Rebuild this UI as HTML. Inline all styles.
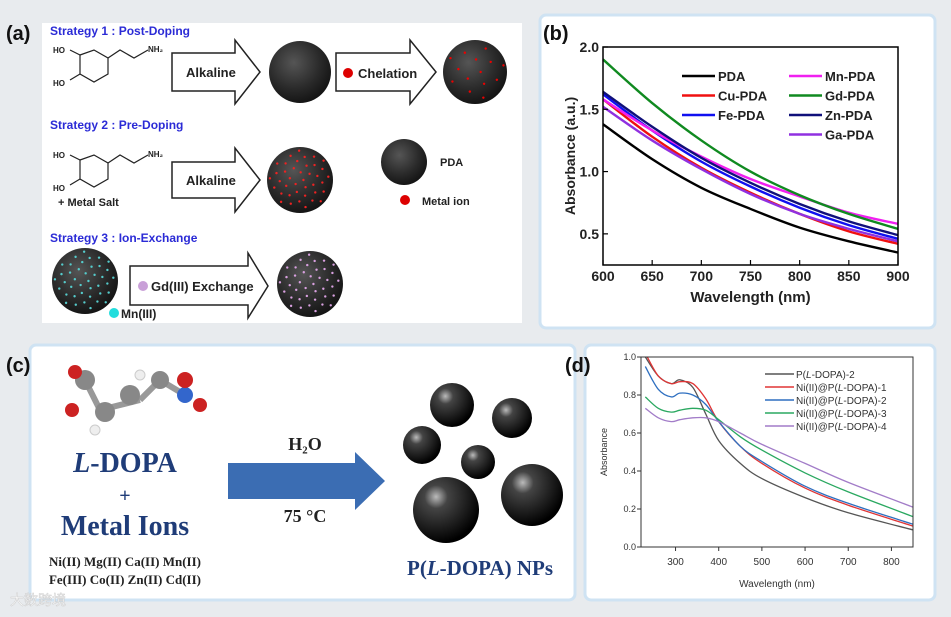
<!DOCTYPE html>
<html><head><meta charset="utf-8"><style>
html,body{margin:0;padding:0;width:951px;height:617px;overflow:hidden;background:#e9ecef;font-family:"Liberation Sans",sans-serif}
svg{display:block}
</style></head><body>
<svg id="fig" width="951" height="617" viewBox="0 0 951 617" xmlns="http://www.w3.org/2000/svg">
<defs>
<radialGradient id="sph" cx="0.4" cy="0.35" r="0.7"><stop offset="0" stop-color="#555"/><stop offset="0.6" stop-color="#2a2a2a"/><stop offset="1" stop-color="#111"/></radialGradient>
<radialGradient id="ball" cx="0.35" cy="0.3" r="0.7"><stop offset="0" stop-color="#bbb"/><stop offset="0.25" stop-color="#444"/><stop offset="1" stop-color="#000"/></radialGradient>
<clipPath id="cpd"><rect x="641" y="357" width="272" height="190"/></clipPath>
</defs>
<rect width="951" height="617" fill="#e8ebee"/>
<rect x="42" y="23" width="480" height="300" fill="#fff"/>
<rect x="540" y="15" width="395" height="313" rx="6" fill="#fff" stroke="#cfe3f3" stroke-width="3"/>
<rect x="30" y="345" width="545" height="255" rx="6" fill="#fff" stroke="#cfe3f3" stroke-width="3"/>
<rect x="585" y="345" width="350" height="255" rx="6" fill="#fff" stroke="#cfe3f3" stroke-width="3"/>

<g font-weight="bold">
<text x="6" y="40" font-size="20" fill="#111">(a)</text>
<text x="50" y="35" font-size="12" fill="#2b2bd6">Strategy 1 : Post-Doping</text>
<text x="50" y="129" font-size="12" fill="#2b2bd6">Strategy 2 : Pre-Doping</text>
<text x="50" y="242" font-size="12" fill="#2b2bd6">Strategy 3 : Ion-Exchange</text>
<g fill="none" stroke="#222" stroke-width="1.2">
<polygon points="80,55 94,50 108,58 108,74 94,82 80,74"/><polyline points="108,58 120,50 134,58 148,50"/><line x1="80" y1="55" x2="70" y2="50"/><line x1="80" y1="74" x2="70" y2="80"/>
</g>
<text x="53" y="53" font-size="8" fill="#222">HO</text><text x="53" y="86" font-size="8" fill="#222">HO</text><text x="148" y="52" font-size="8" fill="#222">NH₂</text>
<g fill="none" stroke="#222" stroke-width="1.2">
<polygon points="80,160 94,155 108,163 108,179 94,187 80,179"/><polyline points="108,163 120,155 134,163 148,155"/><line x1="80" y1="160" x2="70" y2="155"/><line x1="80" y1="179" x2="70" y2="185"/>
</g>
<text x="53" y="158" font-size="8" fill="#222">HO</text><text x="53" y="191" font-size="8" fill="#222">HO</text><text x="148" y="157" font-size="8" fill="#222">NH₂</text>
<text x="58" y="206" font-size="11" fill="#222">+ Metal Salt</text>
<path d="M172,53 H235 V40 L260,72 L235,104 V91 H172 Z" fill="#fff" stroke="#222" stroke-width="1.5"/>
<text x="186" y="77" font-size="13" fill="#222">Alkaline</text>
<path d="M336,53 H410 V40 L436,72 L410,104 V91 H336 Z" fill="#fff" stroke="#222" stroke-width="1.5"/>
<circle cx="348" cy="73" r="5" fill="#d00"/><text x="358" y="78" font-size="13" fill="#222">Chelation</text>
<path d="M172,162 H235 V148 L260,180 L235,212 V198 H172 Z" fill="#fff" stroke="#222" stroke-width="1.5"/>
<text x="186" y="185" font-size="13" fill="#222">Alkaline</text>
<path d="M130,266 H248 V253 L268,286 L248,318 V305 H130 Z" fill="#fff" stroke="#222" stroke-width="1.5"/>
<circle cx="143" cy="286" r="5" fill="#c9a0d8"/><text x="151" y="291" font-size="13" fill="#222">Gd(III) Exchange</text>
<circle cx="300" cy="72" r="31" fill="url(#sph)"/>
<circle cx="475" cy="72" r="32" fill="url(#sph)"/>
<circle cx="300" cy="180" r="33" fill="url(#sph)"/>
<circle cx="404" cy="162" r="23" fill="url(#sph)"/>
<text x="440" y="166" font-size="11" fill="#222">PDA</text>
<circle cx="405" cy="200" r="5" fill="#d00"/><text x="422" y="205" font-size="11" fill="#222">Metal ion</text>
<circle cx="85" cy="281" r="33" fill="url(#sph)"/>
<circle cx="310" cy="284" r="33" fill="url(#sph)"/>
<circle cx="114" cy="313" r="5" fill="#2dd"/><text x="121" y="318" font-size="12" fill="#222">Mn(III)</text>
<g id="dots"></g>
</g>

<g id="chartB"></g>
<g id="chartD"></g>

<g>
<text x="6" y="372" font-size="20" font-weight="bold" fill="#111">(c)</text>
<g>
<line x1="85" y1="380" x2="100" y2="410" stroke="#999" stroke-width="6"/><line x1="100" y1="410" x2="140" y2="400" stroke="#999" stroke-width="6"/>
<line x1="140" y1="400" x2="160" y2="380" stroke="#999" stroke-width="6"/><line x1="160" y1="380" x2="185" y2="395" stroke="#999" stroke-width="6"/>
<circle cx="85" cy="380" r="10" fill="#888"/><circle cx="105" cy="412" r="10" fill="#888"/><circle cx="130" cy="395" r="10" fill="#888"/>
<circle cx="75" cy="372" r="7" fill="#c22"/><circle cx="72" cy="410" r="7" fill="#c22"/><circle cx="160" cy="380" r="9" fill="#888"/>
<circle cx="185" cy="395" r="8" fill="#3366cc"/><circle cx="185" cy="380" r="8" fill="#c22"/><circle cx="200" cy="405" r="7" fill="#c22"/>
<circle cx="95" cy="430" r="5" fill="#eee" stroke="#ccc"/><circle cx="140" cy="375" r="5" fill="#eee" stroke="#ccc"/>
</g>
<g font-family="Liberation Serif, serif" font-weight="bold" fill="#1f3c78" text-anchor="middle">
<text x="125" y="472" font-size="28"><tspan font-style="italic">L</tspan>-DOPA</text>
<text x="125" y="502" font-size="20">+</text>
<text x="125" y="535" font-size="28">Metal Ions</text>
<text x="125" y="566" font-size="13" fill="#222">Ni(II) Mg(II)  Ca(II)  Mn(II)</text>
<text x="125" y="584" font-size="13" fill="#222">Fe(III) Co(II) Zn(II)  Cd(II)</text>
<text x="480" y="575" font-size="21">P(<tspan font-style="italic">L</tspan>-DOPA) NPs</text>
<text x="305" y="450" font-size="18" fill="#222">H₂O</text>
<text x="305" y="522" font-size="18" fill="#222">75 °C</text>
</g>
<path d="M228,463 H355 V452 L385,481 L355,510 V499 H228 Z" fill="#3b6db3"/>
<g fill="url(#ball)">
<circle cx="452" cy="405" r="22"/><circle cx="512" cy="418" r="20"/><circle cx="422" cy="445" r="19"/>
<circle cx="478" cy="462" r="17"/><circle cx="532" cy="495" r="31"/><circle cx="446" cy="510" r="33"/>
</g>
</g>
<text x="565" y="372" font-size="20" font-weight="bold" fill="#111">(d)</text>
<text x="10" y="605" font-size="14" fill="#fff" stroke="#ccc" stroke-width="0.5" font-family="Liberation Sans, Noto Sans CJK SC, sans-serif">大数跨境</text>
</svg>
<script>
const bWave=[600,650,700,750,800,850,900];
const bNames=['PDA','Cu-PDA','Fe-PDA','Mn-PDA','Gd-PDA','Zn-PDA','Ga-PDA'];
const bPDA=[1.38,1.10,0.87,0.70,0.55,0.44,0.35];
const bCu=[1.58,1.28,1.03,0.83,0.66,0.52,0.42];
const bFe=[1.62,1.33,1.08,0.88,0.71,0.57,0.46];
const bMn=[1.58,1.33,1.12,0.94,0.80,0.67,0.58];
const bGd=[1.90,1.55,1.25,1.00,0.81,0.66,0.54];
const bZn=[1.64,1.36,1.11,0.91,0.74,0.60,0.49];
const bGa=[1.52,1.25,1.02,0.82,0.66,0.54,0.44];
const bXTicks=[600,650,700,750,800,850,900];
const bYTicks=[0.5,1.0,1.5,2.0];
const bColors=['#000','#f01010','#1010f0','#f020f0','#108a20','#10107a','#9030e0'];

const dWave=[230,260,290,310,340,370,400,450,500,600,700,850];
const dNames=['P(L-DOPA)-2','Ni(II)@P(L-DOPA)-1','Ni(II)@P(L-DOPA)-2','Ni(II)@P(L-DOPA)-3','Ni(II)@P(L-DOPA)-4'];
const dP2=[1.00,0.90,0.86,0.88,0.84,0.70,0.56,0.44,0.36,0.26,0.18,0.09];
const dN1=[1.02,0.90,0.86,0.87,0.86,0.78,0.66,0.53,0.44,0.31,0.22,0.11];
const dN2=[0.95,0.83,0.79,0.81,0.80,0.75,0.66,0.53,0.45,0.32,0.23,0.12];
const dN3=[0.79,0.73,0.71,0.72,0.73,0.72,0.67,0.58,0.51,0.39,0.29,0.16];
const dN4=[0.73,0.68,0.66,0.67,0.68,0.68,0.66,0.60,0.54,0.44,0.34,0.21];
const dXTicks=[300,400,500,600,700,800];
const dYTicks=[0.0,0.2,0.4,0.6,0.8,1.0];
const dColors=['#555','#e03535','#2e6fc0','#2aa860','#a27cc8'];

const NS='http://www.w3.org/2000/svg';
function mk(p,t,a){const e=document.createElementNS(NS,t);for(const k in a)e.setAttribute(k,a[k]);p.appendChild(e);return e;}
const dg=document.getElementById('dots');
[[475,72,32,'#e00',14],[300,180,33,'#e22',40],[85,281,33,'#5cc',40],[310,284,33,'#d9a0e0',40]].forEach(s=>{
 for(let i=0;i<s[4];i++){const a=i*2.399,r=s[2]*0.93*Math.sqrt((i+0.5)/s[4]);
 mk(dg,'circle',{cx:s[0]+r*Math.cos(a),cy:s[1]+r*Math.sin(a),r:1.2,fill:s[3]});}
});

function smooth(pts){let d='M'+pts[0][0]+','+pts[0][1];
 for(let i=0;i<pts.length-1;i++){const p0=pts[i-1]||pts[i],p1=pts[i],p2=pts[i+1],p3=pts[i+2]||p2;
 d+=' C'+(p1[0]+(p2[0]-p0[0])/6)+','+(p1[1]+(p2[1]-p0[1])/6)+' '+(p2[0]-(p3[0]-p1[0])/6)+','+(p2[1]-(p3[1]-p1[1])/6)+' '+p2[0]+','+p2[1];}
 return d;}

(function(){
 const g=document.getElementById('chartB');
 const L=603,R=898,T=47,B=265,x0=600,x1=900,y0=0.25,y1=2.0;
 const X=v=>L+(v-x0)/(x1-x0)*(R-L), Y=v=>B-(v-y0)/(y1-y0)*(B-T);
 mk(g,'text',{x:543,y:40,'font-size':20,'font-weight':'bold',fill:'#111'}).textContent='(b)';
 const series=[bPDA,bCu,bFe,bMn,bGd,bZn,bGa];
 series.forEach((s,i)=>{const p=mk(g,'path',{d:smooth(bWave.map((w,j)=>[X(w),Y(s[j])])),fill:'none',stroke:bColors[i],'stroke-width':2.4});
  
  });
 mk(g,'rect',{x:L,y:T,width:R-L,height:B-T,fill:'none',stroke:'#000','stroke-width':1.5});
 bXTicks.forEach(t=>{mk(g,'line',{x1:X(t),x2:X(t),y1:B,y2:B-5,stroke:'#000','stroke-width':1.2});
  const tx=mk(g,'text',{x:X(t),y:B+16,'font-size':14,'font-weight':'bold','text-anchor':'middle',fill:'#222'});tx.textContent=t;
  
  });
 bYTicks.forEach(t=>{mk(g,'line',{x1:L,x2:L+5,y1:Y(t),y2:Y(t),stroke:'#000','stroke-width':1.2});
  const tx=mk(g,'text',{x:L-4,y:Y(t)+5,'font-size':14,'font-weight':'bold','text-anchor':'end',fill:'#222'});tx.textContent=t.toFixed(1);
  
  });
 const xt=mk(g,'text',{x:(L+R)/2,y:302,'font-size':15,'font-weight':'bold','text-anchor':'middle',fill:'#222'});xt.textContent='Wavelength (nm)';
 
 
 const yt=mk(g,'text',{x:0,y:0,'font-size':14,'font-weight':'bold','text-anchor':'middle',fill:'#222',transform:'translate(575,156) rotate(-90)'});yt.textContent='Absorbance (a.u.)';
 
 
 bNames.forEach((n,i)=>{const col=i<3?0:1,row=i<3?i:i-3;const lx=col?789:682,ly=76+row*19.5;
  const le=mk(g,'g',{});
  
  
  mk(le,'line',{x1:lx,x2:lx+33,y1:ly,y2:ly,stroke:bColors[i],'stroke-width':2.5});
  mk(le,'text',{x:lx+36,y:ly+5,'font-size':13,'font-weight':'bold',fill:'#222'}).textContent=n;});
})();

(function(){
 const g=document.getElementById('chartD');
 const L=641,R=913,T=357,B=547,x0=220,x1=850,y0=0,y1=1.0;
 const X=v=>L+(v-x0)/(x1-x0)*(R-L), Y=v=>B-(v-y0)/(y1-y0)*(B-T);
 const series=[dP2,dN1,dN2,dN3,dN4];
 series.forEach((s,i)=>{const p=mk(g,'path',{d:smooth(dWave.map((w,j)=>[X(w),Y(s[j])])),fill:'none',stroke:dColors[i],'stroke-width':1.3,'clip-path':'url(#cpd)'});
  
  });
 mk(g,'rect',{x:L,y:T,width:R-L,height:B-T,fill:'none',stroke:'#333','stroke-width':1});
 dXTicks.forEach(t=>{mk(g,'line',{x1:X(t),x2:X(t),y1:B,y2:B+4,stroke:'#333'});
  const tx=mk(g,'text',{x:X(t),y:B+18,'font-size':10,'text-anchor':'middle',fill:'#333'});tx.textContent=t;
  
  });
 dYTicks.forEach(t=>{mk(g,'line',{x1:L,x2:L-4,y1:Y(t),y2:Y(t),stroke:'#333'});
  const tx=mk(g,'text',{x:L-5,y:Y(t)+3,'font-size':9,'text-anchor':'end',fill:'#333'});tx.textContent=t.toFixed(1);
  
  });
 const xt=mk(g,'text',{x:(L+R)/2,y:587,'font-size':10,'text-anchor':'middle',fill:'#333'});xt.textContent='Wavelength (nm)';
 
 
 const yt=mk(g,'text',{x:0,y:0,'font-size':9,'text-anchor':'middle',fill:'#333',transform:'translate(607,452) rotate(-90)'});yt.textContent='Absorbance';
 
 
 dNames.forEach((n,i)=>{const lx=765,ly=374+i*13;
  const le=mk(g,'g',{});
  
  
  mk(le,'line',{x1:lx,x2:lx+29,y1:ly,y2:ly,stroke:dColors[i],'stroke-width':1.5});
  const t=mk(le,'text',{x:lx+31,y:ly+4,'font-size':10,fill:'#333'});
  const parts=n.split('L-');
  t.appendChild(document.createTextNode(parts[0]));
  const ts=mk(t,'tspan',{'font-style':'italic'});ts.textContent='L';
  t.appendChild(document.createTextNode('-'+parts[1]));});
})();
</script>
</body></html>
